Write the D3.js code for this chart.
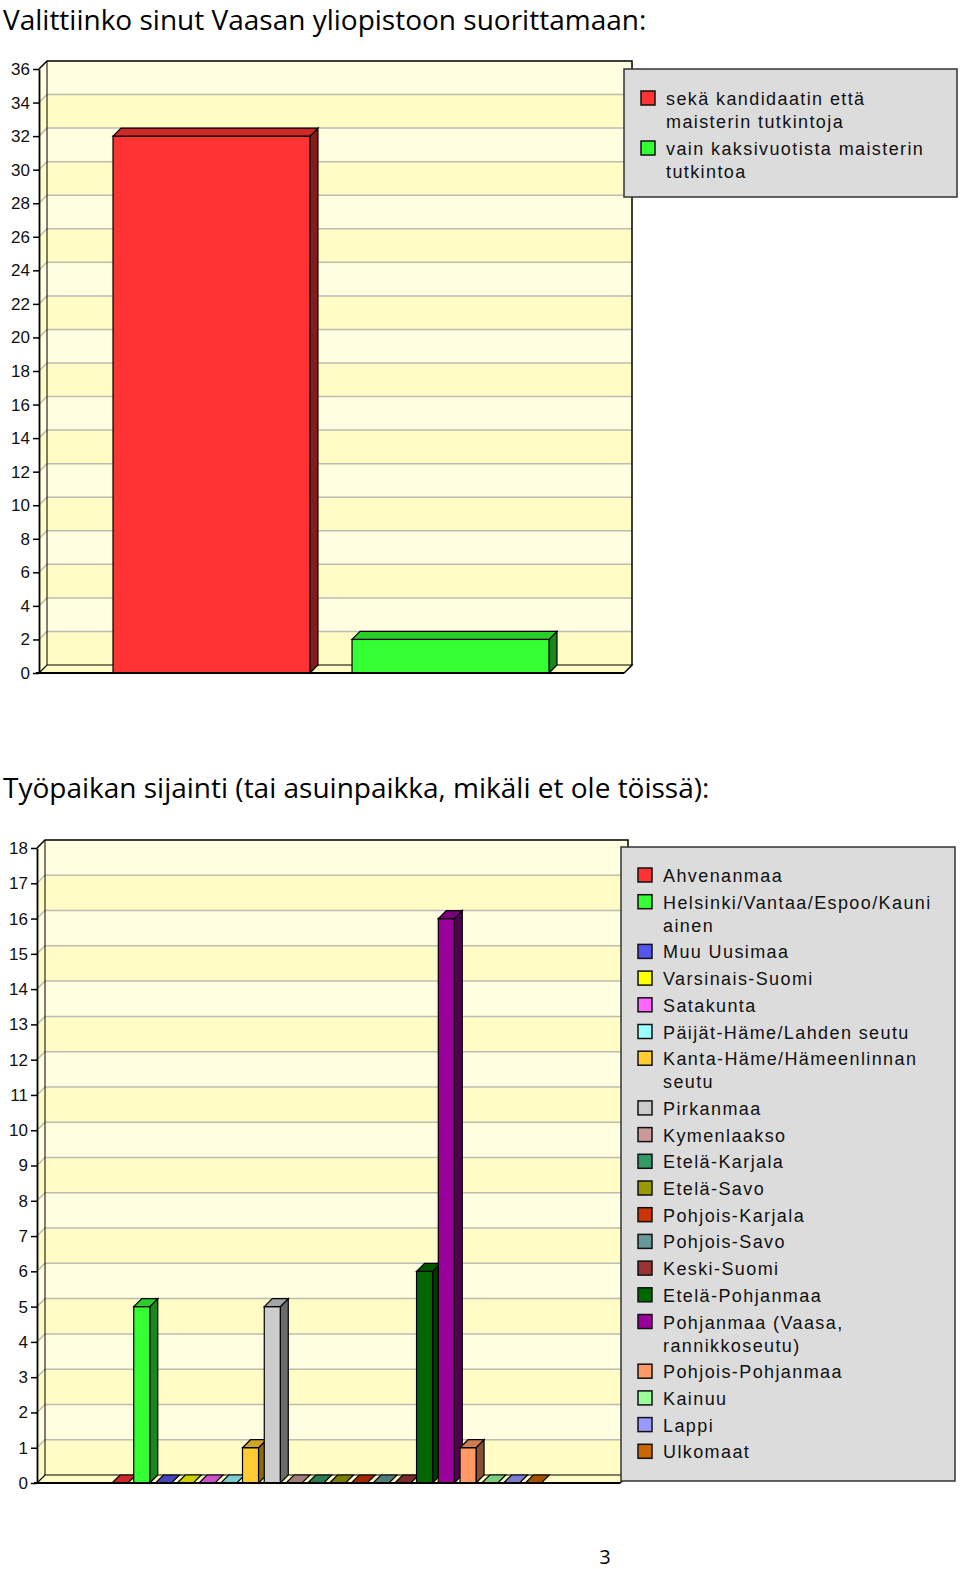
<!DOCTYPE html>
<html>
<head>
<meta charset="utf-8">
<script src="https://cdn.jsdelivr.net/npm/d3@7"></script>
<style>
  body { margin: 0; background: #fff; }
  svg { display: block; }
  text { font-variant-ligatures: none; }
</style>
</head>
<body>
<svg id="page"></svg>
<script>
// --- chart 1 data
const degreeTitle = "Valittiinko sinut Vaasan yliopistoon suorittamaan:";
const degreeSeries = ["sekä kandidaatin että maisterin tutkintoja", "vain kaksivuotista maisterin tutkintoa"];
const degreeValues = [32, 2];
const degreeColors = ["#ff3333", "#33ff33"];
const degreeTicks = [0, 2, 4, 6, 8, 10, 12, 14, 16, 18, 20, 22, 24, 26, 28, 30, 32, 34, 36];

// --- chart 2 data
const regionTitle = "Työpaikan sijainti (tai asuinpaikka, mikäli et ole töissä):";
const regionSeries = ["Ahvenanmaa", "Helsinki/Vantaa/Espoo/Kauniainen", "Muu Uusimaa", "Varsinais-Suomi",
  "Satakunta", "Päijät-Häme/Lahden seutu", "Kanta-Häme/Hämeenlinnan seutu", "Pirkanmaa", "Kymenlaakso",
  "Etelä-Karjala", "Etelä-Savo", "Pohjois-Karjala", "Pohjois-Savo", "Keski-Suomi", "Etelä-Pohjanmaa",
  "Pohjanmaa (Vaasa, rannikkoseutu)", "Pohjois-Pohjanmaa", "Kainuu", "Lappi", "Ulkomaat"];
const regionValues = [0, 5, 0, 0, 0, 0, 1, 5, 0, 0, 0, 0, 0, 0, 6, 16, 1, 0, 0, 0];
const regionColors = ["#ff3333", "#33ff33", "#5555ee", "#ffff00", "#ff66ff", "#99ffff", "#ffcc33", "#cccccc",
  "#cc9999", "#339966", "#999900", "#cc3300", "#669999", "#993333", "#006600", "#990099", "#ff9966",
  "#99ff99", "#9999ff", "#cc6600"];
const regionTicks = [0, 1, 2, 3, 4, 5, 6, 7, 8, 9, 10, 11, 12, 13, 14, 15, 16, 17, 18];

const pageNumber = "3";

const W = 960, H = 1569;
const depth = 8;  // 3d offset of the wall

const svg = d3.select("#page").attr("width", W).attr("height", H);
svg.append("rect").attr("width", W).attr("height", H).attr("fill", "#fff");

// title, font size shrunk/grown so the line spans about targetW
function titleText(txt, x, y, targetW) {
  const t = svg.append("text")
    .attr("x", x).attr("y", y)
    .attr("font-family", "'Open Sans', 'Noto Sans', sans-serif")
    .attr("font-size", 26)
    .attr("fill", "#000")
    .text(txt);
  const w = t.node().getComputedTextLength();
  t.attr("font-size", Math.min(28, 26 * targetW / w));
}

// break a label into lines no wider than maxW (long words are cut by character)
function wrapLabel(label, maxW, probe) {
  const measure = s => { probe.text(s); return probe.node().getComputedTextLength(); };
  const lines = [];
  let cur = "";
  label.split(" ").forEach(word => {
    const test = cur ? cur + " " + word : word;
    if (measure(test) <= maxW) { cur = test; return; }
    if (cur) lines.push(cur);
    cur = "";
    let w = word;
    while (measure(w) > maxW) {
      let n = w.length;
      while (n > 1 && measure(w.slice(0, n)) > maxW) n--;
      lines.push(w.slice(0, n));
      w = w.slice(n);
    }
    cur = w;
  });
  if (cur) lines.push(cur);
  probe.text("");
  return lines;
}

function drawChart(o) {
  const g = svg.append("g");
  const y = d3.scaleLinear().domain([0, o.yMax]).range([o.y0, o.yTop]);
  const x = d3.scaleBand().domain(o.series).range(o.barRange).paddingInner(o.barPadding).paddingOuter(0);
  const ax = o.axisX, right = o.right, d = depth;

  // back wall bands + left side strip
  const t = o.ticks;
  for (let i = 0; i < t.length - 1; i++) {
    const fill = i % 2 === 0 ? "#fffcc6" : "#fffee0";
    g.append("rect")
      .attr("x", ax + d).attr("y", y(t[i + 1]) - d)
      .attr("width", right - ax).attr("height", y(t[i]) - y(t[i + 1]))
      .attr("fill", fill);
    g.append("path")
      .attr("d", `M${ax},${y(t[i])}L${ax + d},${y(t[i]) - d}L${ax + d},${y(t[i + 1]) - d}L${ax},${y(t[i + 1])}Z`)
      .attr("fill", fill);
  }

  // gridlines
  t.slice(1, -1).forEach(v => {
    g.append("path")
      .attr("d", `M${ax},${y(v)}L${ax + d},${y(v) - d}H${right + d}`)
      .attr("fill", "none").attr("stroke", "#bdbcb0").attr("stroke-width", 1.5);
  });

  // wall outline
  g.append("path")
    .attr("d", `M${ax},${o.yTop}L${ax + d},${o.yTop - d}H${right + d}V${o.y0 - d}L${right},${o.y0}`)
    .attr("fill", "none").attr("stroke", "#000").attr("stroke-width", 1.5);
  g.append("line")
    .attr("x1", ax + d).attr("x2", ax + d).attr("y1", o.yTop - d).attr("y2", o.y0 - d)
    .attr("stroke", "#000").attr("stroke-width", 1);

  // floor
  g.append("path")
    .attr("d", `M${ax},${o.y0}L${ax + d},${o.y0 - d}H${right + d}L${right},${o.y0}Z`)
    .attr("fill", "#fffcc6").attr("stroke", "#000").attr("stroke-width", 1.2);

  // bars
  const bars = g.append("g").selectAll("g")
    .data(o.series.map((s, i) => ({ name: s, value: o.values[i], color: o.colors[i] })))
    .enter().append("g");

  bars.each(function (b) {
    const sel = d3.select(this);
    const bx = x(b.name), bw = x.bandwidth();
    const top = y(b.value);
    const topCol = d3.color(b.color).darker(0.6).formatHex();
    const sideCol = d3.color(b.color).darker(1.8).formatHex();
    if (b.value > 0) {
      sel.append("path")
        .attr("d", `M${bx + bw},${o.y0}L${bx + bw + d},${o.y0 - d}V${top - d}L${bx + bw},${top}Z`)
        .attr("fill", sideCol).attr("stroke", "#000").attr("stroke-width", 1.2);
      sel.append("rect")
        .attr("x", bx).attr("y", top).attr("width", bw).attr("height", o.y0 - top)
        .attr("fill", b.color).attr("stroke", "#000").attr("stroke-width", 1.2);
    }
    sel.append("path")
      .attr("d", `M${bx},${top}L${bx + d},${top - d}H${bx + bw + d}L${bx + bw},${top}Z`)
      .attr("fill", topCol).attr("stroke", "#000").attr("stroke-width", 1.2);
  });

  // y axis
  const axis = g.append("g")
    .attr("transform", `translate(${ax},0)`)
    .call(d3.axisLeft(y).tickValues(o.ticks).tickSize(6).tickSizeOuter(0).tickPadding(3));
  axis.select(".domain").attr("stroke", "#000").attr("stroke-width", 1.8);
  axis.selectAll(".tick line").attr("stroke", "#000").attr("stroke-width", 1.5);
  axis.selectAll(".tick text")
    .attr("font-family", "'Liberation Sans', Arial, sans-serif")
    .attr("font-size", 17).attr("fill", "#111");
  g.append("line")
    .attr("x1", ax - 3).attr("x2", right).attr("y1", o.y0).attr("y2", o.y0)
    .attr("stroke", "#000").attr("stroke-width", 1.8);

  // legend
  const L = o.legend;
  const lg = svg.append("g");
  lg.append("rect")
    .attr("x", L.x).attr("y", L.y).attr("width", L.w).attr("height", L.h)
    .attr("fill", "#dcdcdc").attr("stroke", "#333").attr("stroke-width", 1.5);
  const font = { family: "'Liberation Sans', Arial, sans-serif", size: 18, spacing: 1.4 };
  const probe = lg.append("text")
    .attr("font-family", font.family).attr("font-size", font.size)
    .attr("letter-spacing", font.spacing).attr("visibility", "hidden");
  let base = L.firstBaseline;
  o.series.forEach((s, i) => {
    lg.append("rect")
      .attr("x", L.swatchX).attr("y", base - 14).attr("width", 14).attr("height", 14)
      .attr("fill", o.colors[i]).attr("stroke", "#111").attr("stroke-width", 1.5);
    const lines = wrapLabel(s, L.maxText, probe);
    lines.forEach((ln, k) => {
      lg.append("text")
        .attr("x", L.textX).attr("y", base + k * L.lineH)
        .attr("font-family", font.family).attr("font-size", font.size)
        .attr("letter-spacing", font.spacing).attr("fill", "#111")
        .text(ln);
    });
    base += (lines.length - 1) * L.lineH + L.itemStep;
  });
}

titleText(degreeTitle, 3, 30, 645);
drawChart({
  series: degreeSeries, values: degreeValues, colors: degreeColors, ticks: degreeTicks,
  yMax: 36, y0: 673, yTop: 69, axisX: 39, right: 624,
  barRange: [113, 549], barPadding: 0.176,
  legend: { x: 624, y: 69, w: 333, h: 128, swatchX: 641, textX: 666, firstBaseline: 105,
            lineH: 23, itemStep: 27, maxText: 278 }
});

titleText(regionTitle, 3, 798, 719);
drawChart({
  series: regionSeries, values: regionValues, colors: regionColors, ticks: regionTicks,
  yMax: 18, y0: 1483, yTop: 848, axisX: 37, right: 620,
  barRange: [112, 541.3], barPadding: 0.264,
  legend: { x: 621, y: 847, w: 334, h: 634, swatchX: 638, textX: 663, firstBaseline: 882,
            lineH: 23, itemStep: 26.7, maxText: 278 }
});

svg.append("text")
  .attr("x", 605).attr("y", 1564).attr("text-anchor", "middle")
  .attr("font-family", "'Open Sans', sans-serif").attr("font-size", 20)
  .text(pageNumber);
</script>
</body>
</html>
